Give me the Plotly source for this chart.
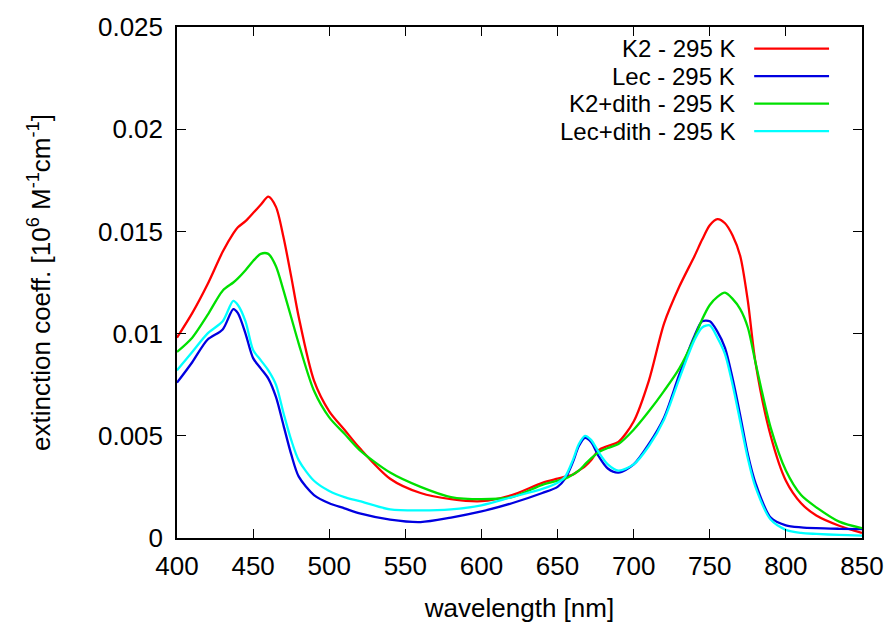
import plotly.graph_objects as go

wavelength = [400, 410, 420, 430, 437, 440, 445, 450, 455, 460, 465, 470, 475, 480, 490, 500,
              510, 520, 540, 560, 580, 600, 620, 640, 650, 655, 660, 664, 668, 672, 677, 683,
              690, 700, 710, 720, 730, 740, 745, 750, 755, 760, 765, 770, 775, 780, 790, 800,
              810, 820, 835, 850]

k2 = [0.0098, 0.0110, 0.0124, 0.0140, 0.0149, 0.0152, 0.0155, 0.0159, 0.0163, 0.0167, 0.0162,
      0.0147, 0.0128, 0.0108, 0.0077, 0.0062, 0.0053, 0.0044, 0.0029, 0.0022, 0.0019, 0.0018,
      0.0021, 0.0027, 0.0029, 0.0030, 0.0031, 0.0033, 0.0035, 0.0038, 0.0043, 0.0045, 0.0047,
      0.0057, 0.0077, 0.0105, 0.0123, 0.0138, 0.0146, 0.0153, 0.0156, 0.0154, 0.0148, 0.0138,
      0.0116, 0.0086, 0.0050, 0.0028, 0.0017, 0.0011, 0.0006, 0.00025]

lec = [0.0076, 0.0086, 0.0097, 0.0102, 0.0112, 0.0110, 0.0100, 0.0088, 0.0083, 0.0078, 0.0069,
       0.0055, 0.0041, 0.0030, 0.0021, 0.0017, 0.00145, 0.0012, 0.0009, 0.00078, 0.0010, 0.0013,
       0.0017, 0.0022, 0.0025, 0.0029, 0.0037, 0.0045, 0.0049, 0.0047, 0.0040, 0.0034, 0.0032,
       0.0036, 0.0046, 0.0059, 0.0080, 0.0099, 0.0106, 0.0106, 0.0101, 0.0093, 0.0078, 0.0060,
       0.0041, 0.0027, 0.0010, 0.00062, 0.00052, 0.00048, 0.00045, 0.00043]

k2_dith = [0.0091, 0.0098, 0.0109, 0.0121, 0.0125, 0.0127, 0.0131, 0.01355, 0.0139, 0.0139,
           0.0133, 0.0121, 0.0108, 0.0095, 0.0072, 0.0059, 0.0051, 0.0043, 0.0032, 0.0025, 0.0020,
           0.0019, 0.0020, 0.0026, 0.0028, 0.0029, 0.0031, 0.0033, 0.0036, 0.0039, 0.0042, 0.0044,
           0.0046, 0.0053, 0.0062, 0.0072, 0.0083, 0.0098, 0.0107, 0.0114, 0.0118, 0.0120, 0.0117,
           0.0112, 0.0103, 0.0086, 0.0054, 0.0033, 0.0021, 0.0015, 0.0008, 0.00048]

lec_dith = [0.0082, 0.0091, 0.0100, 0.0106, 0.0116, 0.0114, 0.0106, 0.0092, 0.0087, 0.0082,
            0.0075, 0.0061, 0.0048, 0.0038, 0.0028, 0.0023, 0.0020, 0.0018, 0.0014, 0.00135,
            0.0014, 0.0016, 0.0020, 0.0024, 0.0027, 0.0030, 0.0038, 0.0046, 0.0050, 0.0048,
            0.0042, 0.0036, 0.0033, 0.0036, 0.0045, 0.0058, 0.0078, 0.0097, 0.0103, 0.0104,
            0.0098, 0.0090, 0.0075, 0.0057, 0.0039, 0.0025, 0.0009, 0.0004, 0.00025, 0.0002,
            0.00015, 0.00012]

series_names = ["K2 - 295 K", "Lec - 295 K", "K2+dith - 295 K", "Lec+dith - 295 K"]
series_values = [k2, lec, k2_dith, lec_dith]
series_colors = ["#ff0000", "#0000e0", "#00e000", "#00ffff"]

x_ticks = [400, 450, 500, 550, 600, 650, 700, 750, 800, 850]
y_ticks = [0, 0.005, 0.01, 0.015, 0.02, 0.025]
y_ticktext = ["0", "0.005", "0.01", "0.015", "0.02", "0.025"]

FONT = "Liberation Sans, Arial, sans-serif"
FS = 26

fig = go.Figure()
for name, vals, col in zip(series_names, series_values, series_colors):
    fig.add_trace(go.Scatter(x=wavelength, y=vals, mode="lines", name=name,
                             line=dict(color=col, width=2.3, shape="spline", smoothing=0.8),
                             showlegend=False))

# gnuplot-style key: text right-aligned, sample line on the right
row_y = [0.9577, 0.9038, 0.85, 0.7962]
for i, (name, col) in enumerate(zip(series_names, series_colors)):
    fig.add_annotation(x=0.816, y=row_y[i], xref="paper", yref="paper", text=name,
                       showarrow=False, xanchor="right", yanchor="middle", borderpad=0,
                       font=dict(family=FONT, size=24, color="black"))
    fig.add_shape(type="line", xref="paper", yref="paper", x0=0.8426, x1=0.9519,
                  y0=row_y[i], y1=row_y[i], line=dict(color=col, width=2.3))

axis_common = dict(showgrid=False, zeroline=False, showline=True, linecolor="black",
                   linewidth=1.5, mirror="ticks", ticks="inside", ticklen=9, tickwidth=1,
                   tickcolor="black", tickfont=dict(family=FONT, size=FS, color="black"))

fig.update_xaxes(range=[400, 850], tickvals=x_ticks, ticklabelstandoff=4,
                 title=dict(text="wavelength [nm]", font=dict(family=FONT, size=FS, color="black"),
                            standoff=19),
                 **axis_common)
fig.update_yaxes(range=[0, 0.025], tickvals=y_ticks, ticktext=y_ticktext, ticklabelstandoff=7,
                 title=dict(text="extinction coeff. [10<sup>6</sup> M<sup>-1</sup>cm<sup>-1</sup>]",
                            font=dict(family=FONT, size=FS, color="black"), standoff=40),
                 **axis_common)

fig.update_layout(width=896, height=630, margin=dict(l=177, r=33, t=22, b=88),
                  paper_bgcolor="white", plot_bgcolor="white",
                  font=dict(family=FONT, size=FS, color="black"))

fig.write_html("out.html")
